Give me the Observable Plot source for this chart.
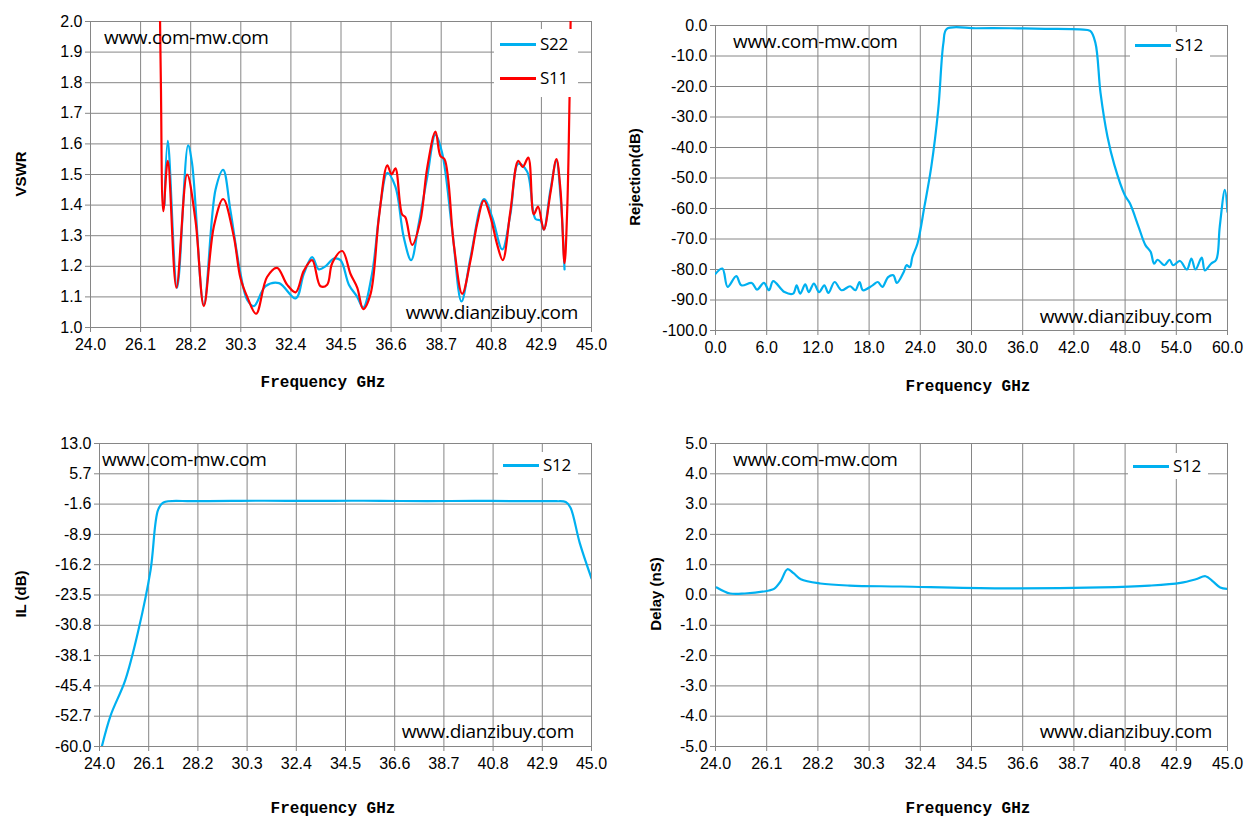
<!DOCTYPE html>
<html><head><meta charset="utf-8">
<script src="https://cdn.jsdelivr.net/npm/d3@7"></script>
<script src="https://cdn.jsdelivr.net/npm/@observablehq/plot@0.6"></script>
<style>
body{margin:0;background:#fff;width:1257px;height:829px;position:relative;overflow:hidden;font-family:"Liberation Sans",Arial,sans-serif}
.p{position:absolute}
.t{position:absolute;font-size:19px;color:#000;white-space:nowrap;font-family:"Open Sans","Liberation Sans",sans-serif;letter-spacing:-0.3px}
.ax{position:absolute;font-family:"Liberation Mono",monospace;font-weight:bold;font-size:16px;white-space:nowrap;transform:translateX(-50%)}
.yl{position:absolute;font-weight:bold;font-size:15px;white-space:nowrap;transform:translate(-50%,-50%) rotate(-90deg)}
.lg{position:absolute;background:#fff}
.ln{position:absolute;height:2.5px}
</style></head><body>
<script>
// Panel 1: VSWR
const s11F=[26.90,26.95,27.05,27.24,27.6,28.05,28.4,28.75,29.17,29.56,30.0,30.29,30.57,30.94,31.4,31.82,32.24,32.6,32.94,33.29,33.64,33.92,34.13,34.55,34.9,35.18,35.43,35.74,36.09,36.44,36.62,36.78,37.06,37.2,37.48,37.83,38.11,38.46,38.67,38.84,39.23,39.58,39.93,40.21,40.49,40.77,41.05,41.28,41.6,41.93,42.12,42.35,42.58,42.76,43.0,43.28,43.53,43.7,43.87,43.98,44.08,44.14];
const s11V=[2.1,1.8,1.38,1.545,1.13,1.50,1.35,1.07,1.33,1.42,1.30,1.16,1.10,1.045,1.165,1.195,1.14,1.115,1.185,1.22,1.135,1.14,1.21,1.25,1.175,1.13,1.06,1.11,1.36,1.53,1.50,1.52,1.37,1.36,1.27,1.35,1.52,1.64,1.56,1.55,1.27,1.11,1.22,1.34,1.415,1.36,1.27,1.22,1.38,1.545,1.525,1.555,1.37,1.395,1.32,1.44,1.55,1.45,1.21,1.38,1.75,2.1];
const s22F=[27.1,27.24,27.63,28.09,28.26,28.75,29.24,29.56,29.87,30.29,30.57,30.85,31.34,31.9,32.6,32.94,33.29,33.57,33.85,34.2,34.48,34.83,35.18,35.43,35.8,36.16,36.44,36.78,37.13,37.44,37.76,38.11,38.46,38.74,39.16,39.55,39.93,40.49,40.84,41.26,41.6,41.93,42.3,42.65,42.86,43.0,43.28,43.53,43.7,43.87];
const s22V=[1.40,1.61,1.13,1.595,1.535,1.075,1.45,1.515,1.38,1.175,1.09,1.07,1.135,1.145,1.095,1.175,1.23,1.19,1.20,1.225,1.22,1.14,1.10,1.065,1.175,1.405,1.505,1.46,1.295,1.22,1.34,1.49,1.63,1.57,1.32,1.085,1.23,1.42,1.36,1.255,1.37,1.535,1.51,1.355,1.35,1.32,1.45,1.545,1.43,1.19];
// Panel 2: Rejection
const rejF=[0,0.81,1.42,2.43,3.04,4.25,4.86,5.67,6.27,6.76,8.09,9.1,9.51,9.92,10.52,10.93,11.53,12.14,12.75,13.23,13.96,14.77,15.78,16.39,16.88,17.28,18.41,19.02,19.55,20.23,20.84,21.25,22.06,22.38,22.78,23.07,23.67,24.48,25.29,26.1,26.71,27.11,30.55,34.6,38.65,42.69,43.91,44.52,45.12,45.93,46.74,47.96,48.56,49.58,50.38,50.99,51.4,51.8,52.61,53.22,53.62,54.43,55.24,55.77,56.25,56.98,57.35,58.07,58.68,59.09,59.69,60.0];
const rejV=[-81.4,-79.7,-85.7,-82.2,-85.2,-84.4,-86.6,-84.4,-86.8,-83.8,-87.4,-87.9,-85.2,-87.9,-84.9,-87.4,-84.6,-87.4,-85.2,-87.7,-84.1,-86.8,-85.5,-86.8,-84.1,-86.8,-85.2,-84.1,-85.7,-82.5,-81.9,-84.4,-80.8,-78.6,-79.2,-75.9,-71.5,-59.4,-46.3,-27.6,-5.7,-1.1,-0.9,-0.9,-1.1,-1.3,-1.8,-5.7,-22.1,-36.4,-45.7,-55.6,-58.3,-66.0,-72.0,-74.2,-78.1,-76.8,-78.6,-76.8,-78.6,-77.2,-80.0,-76.4,-80.0,-76.1,-80.3,-78.1,-76.8,-66.0,-53.9,-61.1];
// Panel 3: IL
const ilF=[24.1,24.47,25.1,25.66,26.18,26.5,26.73,28,30,32,34,36,38,40,42,43.5,43.9,44.1,44.5,45.0];
const ilV=[-60,-52.6,-44,-32,-17.5,-3,-1.2,-0.9,-0.8,-0.8,-0.8,-0.8,-0.9,-0.8,-0.9,-0.9,-1.1,-2.4,-11,-19.5];
const ilTicks=[13.0,5.7,-1.6,-8.9,-16.2,-23.5,-30.8,-38.1,-45.4,-52.7,-60.0];
// Panel 4: Delay
const dlF=[24.05,24.6,25.2,26.2,26.4,26.67,26.95,27.2,27.5,28.3,29.5,31.6,35.7,39.8,41.8,43.07,43.7,44.1,44.4,44.7,45.0];
const dlV=[0.25,0.05,0.05,0.15,0.2,0.45,0.85,0.72,0.52,0.38,0.31,0.28,0.22,0.25,0.31,0.4,0.52,0.62,0.45,0.25,0.2];
const freqTicks=[24.0,26.1,28.2,30.3,32.4,34.5,36.6,38.7,40.8,42.9,45.0];
const rejXTicks=[0,6,12,18,24,30,36,42,48,54,60];
const vswrTicks=d3.range(10,21).map(d=>d/10);
const rejYTicks=d3.range(-100,1,10);
const dlTicks=d3.range(-5,6,1);
const C_BLUE="#00b0f0", C_RED="#ff0000";

function panel(o){
  const W=o.L+o.w+30, H=o.T+o.h+75;
  const marks=[
    Plot.gridX(o.xt,{stroke:"#868686",strokeOpacity:1}),
    Plot.gridY(o.yt,{stroke:"#868686",strokeOpacity:1}),
    Plot.frame({stroke:"#868686"}),
    Plot.axisX(o.xt,{tickFormat:d=>d.toFixed(1),tickSize:5,tickPadding:6,fontSize:16,label:null,stroke:"#868686"}),
    Plot.axisY(o.yt,{tickFormat:d=>d.toFixed(1),tickSize:5,tickPadding:3,fontSize:16,label:null,stroke:"#868686"})
  ];
  for(const s of o.series){
    marks.push(Plot.line(s.x.map((x,i)=>({x,y:s.y[i]})),{x:"x",y:"y",stroke:s.c,strokeWidth:2.2,curve:"catmull-rom",clip:true}));
  }
  const svg=Plot.plot({width:W,height:H,marginLeft:o.L,marginTop:o.T,marginRight:30,marginBottom:75,
    x:{domain:o.xd},y:{domain:o.yd},style:{fontFamily:"Liberation Sans, Arial",fontSize:"16px",color:"#000"},marks});
  const d=document.createElement("div");d.className="p";d.style.left=o.left+"px";d.style.top=o.top+"px";
  d.appendChild(svg);document.body.appendChild(d);
}
panel({left:0,top:0,L:90,T:21,w:501,h:306,xd:[24,45],yd:[1,2],xt:freqTicks,yt:vswrTicks,
  series:[{x:s22F,y:s22V,c:C_BLUE},{x:s11F,y:s11V,c:C_RED}]});
panel({left:625,top:0,L:90,T:25,w:512,h:305,xd:[0,60],yd:[-100,0],xt:rejXTicks,yt:rejYTicks,
  series:[{x:rejF,y:rejV,c:C_BLUE}]});
panel({left:0,top:420,L:99,T:23,w:492,h:303,xd:[24,45],yd:[-60,13],xt:freqTicks,yt:ilTicks,
  series:[{x:ilF,y:ilV,c:C_BLUE}]});
panel({left:625,top:420,L:90,T:23,w:512,h:303,xd:[24,45],yd:[-5,5],xt:freqTicks,yt:dlTicks,
  series:[{x:dlF,y:dlV,c:C_BLUE}]});

function add(html){document.body.insertAdjacentHTML("beforeend",html)}
add('<div class="ax" style="left:323px;top:374px">Frequency GHz</div>');
add('<div class="ax" style="left:968px;top:378px">Frequency GHz</div>');
add('<div class="ax" style="left:333px;top:800px">Frequency GHz</div>');
add('<div class="ax" style="left:968px;top:800px">Frequency GHz</div>');
add('<div class="yl" style="left:20px;top:174px">VSWR</div>');
add('<div class="yl" style="left:634px;top:177px">Rejection(dB)</div>');
add('<div class="yl" style="left:20px;top:594px">IL (dB)</div>');
add('<div class="yl" style="left:655px;top:594px">Delay (nS)</div>');
function legend(x,y,w,h,items){
  add(`<div class="lg" style="left:${x}px;top:${y}px;width:${w}px;height:${h}px"></div>`);
  for(const it of items){
    add(`<div class="ln" style="left:${it.x}px;top:${it.y-1}px;width:36px;background:${it.c}"></div>`);
    add(`<div class="t" style="left:${it.x+40}px;top:${it.y-12}px;font-size:17px">${it.n}</div>`);
  }
}
legend(494,29,84,68,[{x:500,y:44,c:C_BLUE,n:"S22"},{x:500,y:78,c:C_RED,n:"S11"}]);
legend(1130,32,80,26,[{x:1135,y:45,c:C_BLUE,n:"S12"}]);
legend(498,452,80,26,[{x:503,y:465,c:C_BLUE,n:"S12"}]);
legend(1128,453,80,26,[{x:1133,y:466,c:C_BLUE,n:"S12"}]);
add('<div class="t" style="left:104px;top:24px">www.com-mw.com</div>');
add('<div class="t" style="right:679px;top:299px">www.dianzibuy.com</div>');
add('<div class="t" style="left:733px;top:28px">www.com-mw.com</div>');
add('<div class="t" style="right:45px;top:303px">www.dianzibuy.com</div>');
add('<div class="t" style="left:102px;top:446px">www.com-mw.com</div>');
add('<div class="t" style="right:683px;top:718px">www.dianzibuy.com</div>');
add('<div class="t" style="left:733px;top:446px">www.com-mw.com</div>');
add('<div class="t" style="right:45px;top:718px">www.dianzibuy.com</div>');
</script>
</body></html>
